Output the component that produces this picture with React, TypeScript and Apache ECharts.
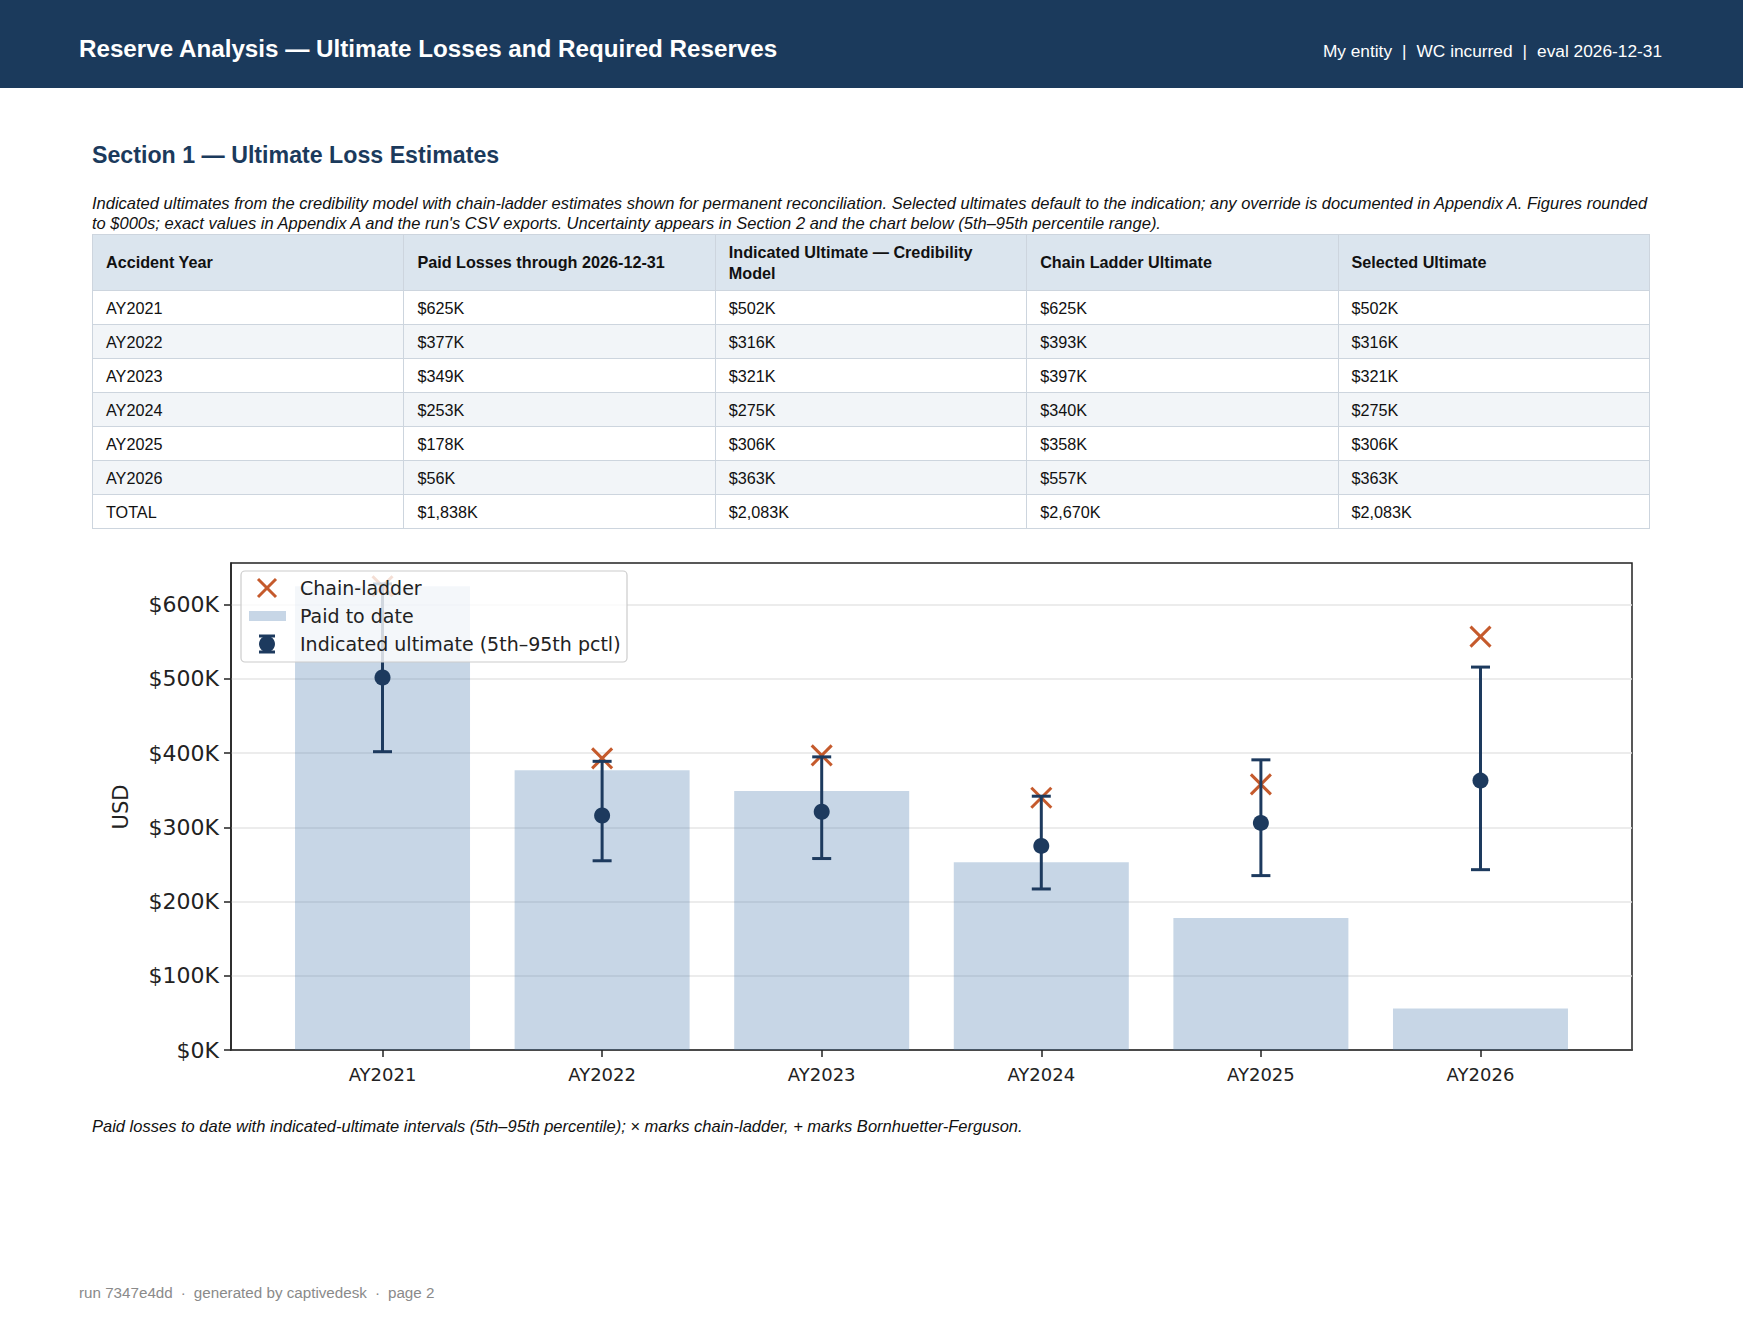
import React, { useEffect, useRef } from "react";
import * as echarts from "echarts";

// ---- Data ----
const categories = ["AY2021", "AY2022", "AY2023", "AY2024", "AY2025", "AY2026"];
const paidToDate = [625, 377, 349, 253, 178, 56];
const indicatedUltimate = [502, 316, 321, 275, 306, 363];
const chainLadder = [625, 393, 397, 340, 358, 557];
const selectedUltimate = [502, 316, 321, 275, 306, 363];
const pctl5 = [402, 255, 258, 217, 235, 243];
const pctl95 = [628, 389, 395, 342, 391, 516];
const yTickValues = [0, 100, 200, 300, 400, 500, 600];

const tableHeaders = [
  "Accident Year",
  "Paid Losses through 2026-12-31",
  "Indicated Ultimate \u2014 Credibility|Model",
  "Chain Ladder Ultimate",
  "Selected Ultimate",
];

const NAVY = "#1d3a5e";
const ORANGE = "#c55a2c";
const BAR = "rgba(70,120,172,0.30)";
const SANS = "'Liberation Sans', Arial, Helvetica, sans-serif";
const DV = "'DejaVu Sans', sans-serif";

const fmtK = (v: number) => "$" + v.toLocaleString("en-US") + "K";
const sum = (a: number[]) => a.reduce((s, v) => s + v, 0);

function Chart() {
  const ref = useRef<HTMLDivElement>(null);
  useEffect(() => {
    if (!ref.current) return;
    const chart = echarts.init(ref.current, undefined, { renderer: "svg" });
    const xIdx = categories.map((_, i) => i);
    const Z = 100;
    const option: any = {
      animation: false,
      grid: {
        left: 139,
        top: 13,
        width: 1401,
        height: 487,
        show: true,
        borderColor: "#222",
        borderWidth: 1.5,
        backgroundColor: "transparent",
      },
      xAxis: {
        type: "value",
        min: -0.69,
        max: 5.69,
        splitLine: { show: false },
        axisLine: { show: true, onZero: false, lineStyle: { color: "#222", width: 1.5 } },
        axisTick: {
          show: true,
          customValues: xIdx,
          length: 7,
          lineStyle: { color: "#222", width: 1.5 },
        },
        axisLabel: {
          customValues: xIdx,
          formatter: (v: number) =>
            Math.abs(v - Math.round(v)) < 1e-6 ? categories[Math.round(v)] ?? "" : "",
          fontFamily: DV,
          fontSize: 18,
          color: "#222",
          margin: 15,
        },
      },
      yAxis: {
        type: "value",
        min: 0,
        max: 656.25,
        interval: 100,
        axisLine: { show: true, onZero: false, lineStyle: { color: "#222", width: 1.5 } },
        axisTick: { show: true, customValues: yTickValues, length: 7, lineStyle: { color: "#222", width: 1.5 } },
        axisLabel: {
          customValues: yTickValues,
          formatter: (v: number) => (yTickValues.includes(v) ? `$${v}K` : ""),
          fontFamily: DV,
          fontSize: 22,
          color: "#222",
          margin: 12,
        },
        splitLine: { show: true, lineStyle: { color: "#e6e6e6", width: 1.5 } },
      },
      series: [
        {
          name: "Paid to date",
          type: "bar",
          data: paidToDate.map((v, i) => [i, v]),
          barWidth: 175,
          itemStyle: { color: BAR },
          z: 2,
        },
        {
          name: "Chain-ladder",
          type: "custom",
          data: chainLadder.map((v, i) => [i, v]),
          encode: { x: 0, y: 1 },
          renderItem: (_p: any, api: any) => {
            const c = api.coord([api.value(0), api.value(1)]);
            const a = 10;
            return {
              type: "group",
              children: [
                { type: "line", shape: { x1: c[0] - a, y1: c[1] - a, x2: c[0] + a, y2: c[1] + a }, style: { stroke: ORANGE, lineWidth: 3 } },
                { type: "line", shape: { x1: c[0] - a, y1: c[1] + a, x2: c[0] + a, y2: c[1] - a }, style: { stroke: ORANGE, lineWidth: 3 } },
              ],
            };
          },
          z: 3,
        },
        {
          name: "Indicated ultimate (5th\u201395th pctl)",
          type: "custom",
          data: categories.map((_, i) => [i, pctl5[i], pctl95[i]]),
          encode: { x: 0, y: [1, 2] },
          renderItem: (_p: any, api: any) => {
            const x = api.value(0);
            const lo = api.coord([x, api.value(1)]);
            const hi = api.coord([x, api.value(2)]);
            const cap = 9.5;
            const st = { stroke: NAVY, lineWidth: 3 };
            return {
              type: "group",
              children: [
                { type: "line", shape: { x1: lo[0], y1: lo[1], x2: hi[0], y2: hi[1] }, style: st },
                { type: "line", shape: { x1: lo[0] - cap, y1: lo[1], x2: lo[0] + cap, y2: lo[1] }, style: st },
                { type: "line", shape: { x1: hi[0] - cap, y1: hi[1], x2: hi[0] + cap, y2: hi[1] }, style: st },
              ],
            };
          },
          z: 4,
        },
        {
          name: "Indicated ultimate",
          type: "scatter",
          data: indicatedUltimate.map((v, i) => [i, v]),
          symbol: "circle",
          symbolSize: 16,
          itemStyle: { color: NAVY, opacity: 1 },
          z: 5,
        },
      ],
      graphic: [
        {
          type: "rect",
          z: Z,
          shape: { x: 149, y: 21, width: 386, height: 91, r: 4 },
          style: { fill: "rgba(255,255,255,0.8)", stroke: "#cccccc", lineWidth: 1.2 },
        },
        { type: "line", z: Z + 1, shape: { x1: 166, y1: 29, x2: 184, y2: 47 }, style: { stroke: ORANGE, lineWidth: 3 } },
        { type: "line", z: Z + 1, shape: { x1: 166, y1: 47, x2: 184, y2: 29 }, style: { stroke: ORANGE, lineWidth: 3 } },
        { type: "rect", z: Z + 1, shape: { x: 157, y: 61, width: 37, height: 10 }, style: { fill: BAR } },
        { type: "line", z: Z + 1, shape: { x1: 175, y1: 86, x2: 175, y2: 102 }, style: { stroke: NAVY, lineWidth: 3 } },
        { type: "line", z: Z + 1, shape: { x1: 167, y1: 86, x2: 183, y2: 86 }, style: { stroke: NAVY, lineWidth: 3 } },
        { type: "line", z: Z + 1, shape: { x1: 167, y1: 102, x2: 183, y2: 102 }, style: { stroke: NAVY, lineWidth: 3 } },
        { type: "circle", z: Z + 1, shape: { cx: 175, cy: 94, r: 8 }, style: { fill: NAVY } },
        { type: "text", z: Z + 1, x: 208, y: 38, style: { text: "Chain-ladder", font: `19px ${DV}`, fill: "#222", verticalAlign: "middle" } },
        { type: "text", z: Z + 1, x: 208, y: 66, style: { text: "Paid to date", font: `19px ${DV}`, fill: "#222", verticalAlign: "middle" } },
        { type: "text", z: Z + 1, x: 208, y: 94, style: { text: "Indicated ultimate (5th\u201395th pctl)", font: `19px ${DV}`, fill: "#222", verticalAlign: "middle" } },
        {
          type: "text",
          x: 29,
          y: 257,
          rotation: Math.PI / 2,
          style: { text: "USD", font: `21px ${DV}`, fill: "#222", align: "center", verticalAlign: "middle" },
        },
      ],
    };
    chart.setOption(option);
    return () => chart.dispose();
  }, []);
  return (
    <div
      ref={ref}
      style={{ position: "absolute", left: 92, top: 550, width: 1560, height: 550, background: "#fff" }}
    />
  );
}

export default function App() {
  const rows = categories.map((c, i) => [
    c,
    fmtK(paidToDate[i]),
    fmtK(indicatedUltimate[i]),
    fmtK(chainLadder[i]),
    fmtK(selectedUltimate[i]),
  ]);
  rows.push([
    "TOTAL",
    fmtK(sum(paidToDate)),
    fmtK(sum(indicatedUltimate)),
    fmtK(sum(chainLadder)),
    fmtK(sum(selectedUltimate)),
  ]);
  const cellBase: React.CSSProperties = {
    border: "1px solid #cdd5de",
    padding: "0 13px",
    textAlign: "left",
    verticalAlign: "middle",
    boxSizing: "border-box",
  };
  const sep = <span style={{ margin: "0 10px" }}>|</span>;
  const dot = <span style={{ margin: "0 8px" }}>·</span>;
  return (
    <div
      style={{
        position: "absolute",
        left: 0,
        top: 0,
        width: 1743,
        height: 1323,
        background: "#fff",
        fontFamily: SANS,
        color: "#111",
        overflow: "hidden",
      }}
    >
      <div style={{ position: "absolute", left: 0, top: 0, width: 1743, height: 88, background: "#1b3a5c" }}>
        <div
          style={{
            position: "absolute",
            left: 79,
            top: 35,
            lineHeight: "28px",
            fontSize: 24.2,
            fontWeight: 700,
            color: "#fff",
            whiteSpace: "nowrap",
          }}
        >
          Reserve Analysis — Ultimate Losses and Required Reserves
        </div>
        <div
          style={{
            position: "absolute",
            right: 81,
            top: 40,
            lineHeight: "22px",
            fontSize: 17.3,
            color: "#fff",
            whiteSpace: "nowrap",
          }}
        >
          My entity{sep}WC incurred{sep}eval 2026-12-31
        </div>
      </div>

      <div
        style={{
          position: "absolute",
          left: 92,
          top: 140,
          lineHeight: "30px",
          fontSize: 23.2,
          fontWeight: 700,
          color: "#1b3a5c",
          whiteSpace: "nowrap",
        }}
      >
        Section 1 — Ultimate Loss Estimates
      </div>

      <div
        style={{
          position: "absolute",
          left: 92,
          top: 193,
          lineHeight: "20px",
          fontSize: 16.5,
          fontStyle: "italic",
          color: "#111",
          whiteSpace: "nowrap",
        }}
      >
        Indicated ultimates from the credibility model with chain-ladder estimates shown for permanent reconciliation.
        Selected ultimates default to the indication; any override is documented in Appendix A. Figures rounded
        <br />
        to $000s; exact values in Appendix A and the run's CSV exports. Uncertainty appears in Section 2 and the chart
        below (5th–95th percentile range).
      </div>

      <table
        style={{
          position: "absolute",
          left: 92,
          top: 234,
          width: 1558,
          borderCollapse: "collapse",
          tableLayout: "fixed",
          fontSize: 16.2,
          fontFamily: SANS,
          color: "#111",
        }}
      >
        <thead>
          <tr style={{ height: 56, background: "#dbe5ee" }}>
            {tableHeaders.map((h, i) => (
              <th key={i} style={{ ...cellBase, fontWeight: 700, lineHeight: "21px" }}>
                {h.split("|").map((p, j) => (
                  <React.Fragment key={j}>
                    {j > 0 && <br />}
                    {p}
                  </React.Fragment>
                ))}
              </th>
            ))}
          </tr>
        </thead>
        <tbody>
          {rows.map((r, i) => (
            <tr key={i} style={{ height: 34, background: i % 2 === 1 ? "#f2f5f8" : "#ffffff" }}>
              {r.map((c, j) => (
                <td key={j} style={{ ...cellBase, lineHeight: "20px" }}>
                  {c}
                </td>
              ))}
            </tr>
          ))}
        </tbody>
      </table>

      <Chart />

      <div
        style={{
          position: "absolute",
          left: 92,
          top: 1116,
          lineHeight: "20px",
          fontSize: 16.5,
          fontStyle: "italic",
          color: "#111",
          whiteSpace: "nowrap",
        }}
      >
        Paid losses to date with indicated-ultimate intervals (5th–95th percentile); × marks chain-ladder, + marks
        Bornhuetter-Ferguson.
      </div>

      <div
        style={{
          position: "absolute",
          left: 79,
          top: 1283,
          lineHeight: "20px",
          fontSize: 15.2,
          color: "#8a8a8a",
          whiteSpace: "nowrap",
        }}
      >
        run 7347e4dd{dot}generated by captivedesk{dot}page 2
      </div>
    </div>
  );
}
